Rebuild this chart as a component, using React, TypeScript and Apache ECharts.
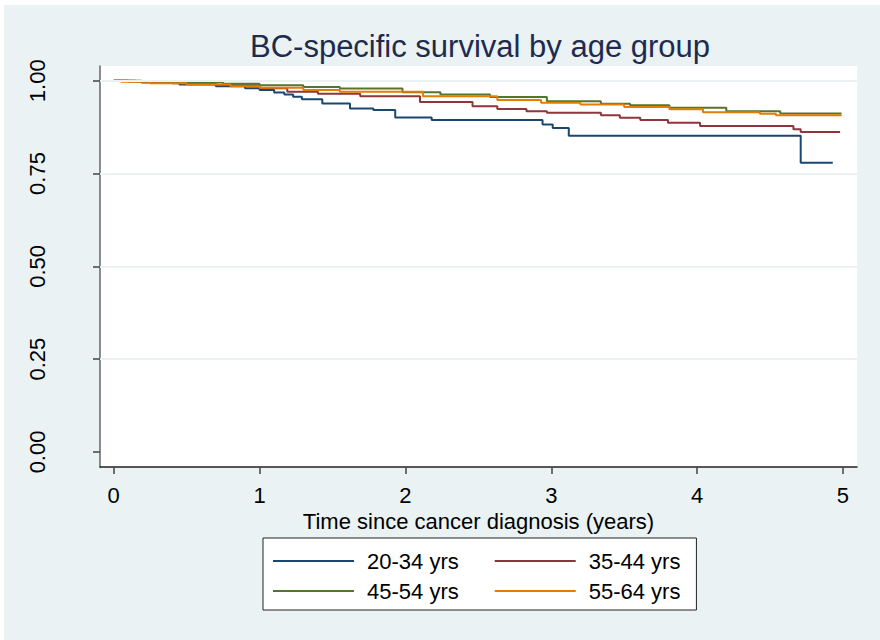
import React, { useEffect, useRef } from "react";
import * as echarts from "echarts";

const titleText = "BC-specific survival by age group";
const xAxisTitle = "Time since cancer diagnosis (years)";
const ageGroups = ["20-34 yrs", "35-44 yrs", "45-54 yrs", "55-64 yrs"];
const xTicks = [0, 1, 2, 3, 4, 5];
const yTicks = [0, 0.25, 0.5, 0.75, 1];
const gridValues = [0.25, 0.5, 0.75, 1];

// Kaplan-Meier step points (time in years, survival)
const time2034 = [0, 0.19, 0.45, 0.7, 0.9, 1.0, 1.1, 1.17, 1.23, 1.29, 1.43, 1.62, 1.78, 1.93, 2.18, 2.94, 3.01, 3.12, 4.71, 4.93];
const surv2034 = [1.0, 0.995, 0.99, 0.985, 0.98, 0.975, 0.968, 0.963, 0.957, 0.95, 0.939, 0.925, 0.921, 0.901, 0.894, 0.882, 0.873, 0.852, 0.779, 0.779];

const time3544 = [0, 0.1, 0.4, 0.7, 1.0, 1.19, 1.4, 1.69, 2.1, 2.46, 2.63, 2.83, 2.97, 3.34, 3.47, 3.61, 3.8, 4.02, 4.66, 4.71, 4.98];
const surv3544 = [1.0, 0.998, 0.993, 0.988, 0.98, 0.97, 0.965, 0.958, 0.943, 0.931, 0.924, 0.918, 0.914, 0.907, 0.9, 0.894, 0.887, 0.878, 0.869, 0.862, 0.862];

const time4554 = [0, 0.15, 0.45, 0.75, 1.0, 1.3, 1.55, 1.98, 2.24, 2.58, 2.97, 3.34, 3.54, 3.81, 4.2, 4.57, 4.99];
const surv4554 = [1.0, 0.998, 0.995, 0.992, 0.988, 0.983, 0.979, 0.969, 0.963, 0.956, 0.945, 0.938, 0.934, 0.927, 0.918, 0.912, 0.912];

const time5564 = [0, 0.05, 0.25, 0.5, 0.8, 1.0, 1.3, 1.55, 2.12, 2.63, 2.93, 3.2, 3.5, 3.81, 4.04, 4.43, 4.54, 4.99];
const surv5564 = [1.0, 0.997, 0.993, 0.99, 0.985, 0.981, 0.975, 0.97, 0.958, 0.948, 0.941, 0.936, 0.929, 0.923, 0.915, 0.911, 0.907, 0.907];

const seriesTimes = [time2034, time3544, time4554, time5564];
const seriesSurv = [surv2034, surv3544, surv4554, surv5564];
const colors = ["#1A476F", "#90353B", "#55752F", "#E37E00"];

const FONT = "'Liberation Sans', Arial, Helvetica, sans-serif";
const BG = "#EAF2F3";

export default function App() {
  const ref = useRef<HTMLDivElement>(null);
  useEffect(() => {
    if (!ref.current) return;
    const chart = echarts.init(ref.current, undefined, { renderer: "svg" });
    const lineSeries = ageGroups.map((name, i) => ({
      name,
      type: "line",
      step: "end",
      symbol: "none",
      showSymbol: false,
      z: 3,
      lineStyle: { color: colors[i], width: 2 },
      itemStyle: { color: colors[i] },
      data: seriesTimes[i].map((t, j) => [t, seriesSurv[i][j]]),
    }));
    const option: any = {
      animation: false,
      backgroundColor: BG,
      title: {
        text: titleText,
        left: 241,
        top: 21,
        textStyle: { fontFamily: FONT, fontSize: 31, fontWeight: "normal", color: "#1E2B4E" },
      },
      grid: {
        left: 96,
        top: 61,
        right: 23,
        bottom: 173,
        show: true,
        backgroundColor: "#ffffff",
        borderWidth: 0,
      },
      xAxis: {
        type: "value",
        min: -0.094,
        max: 5.096,
        name: xAxisTitle,
        nameLocation: "middle",
        nameGap: 39,
        nameTextStyle: { fontFamily: FONT, fontSize: 22, color: "#000" },
        axisLine: { show: true, onZero: false, lineStyle: { color: "#222", width: 1.5 } },
        axisTick: { show: true, length: 7, customValues: xTicks, lineStyle: { color: "#444", width: 1.5 } },
        axisLabel: {
          customValues: xTicks,
          margin: 17,
          fontFamily: FONT,
          fontSize: 22,
          color: "#000",
          formatter: (v: number) => String(v),
        },
        splitLine: { show: false },
      },
      yAxis: {
        type: "value",
        min: -0.0405,
        max: 1.0397,
        axisLine: { show: true, onZero: false, lineStyle: { color: "#666", width: 1.5 } },
        axisTick: { show: true, length: 7, customValues: yTicks, lineStyle: { color: "#444", width: 1.5 } },
        axisLabel: {
          customValues: yTicks,
          rotate: 90,
          margin: 52,
          fontFamily: FONT,
          fontSize: 22,
          color: "#000",
          formatter: (v: number) => v.toFixed(2),
        },
        splitLine: { show: false },
      },
      legend: {
        left: 259,
        top: 533,
        orient: "horizontal",
        width: 415,
        itemGap: 8,
        itemWidth: 81,
        itemHeight: 22,
        padding: [12, 16, 8, 9],
        backgroundColor: "#ffffff",
        borderColor: "#222",
        borderWidth: 1,
        itemStyle: { color: "rgba(0,0,0,0)", borderWidth: 0, opacity: 0 },
        lineStyle: { width: 2 },
        textStyle: { fontFamily: FONT, fontSize: 22, color: "#000", lineHeight: 22, padding: [0, 0, 0, 8] },
        data: [
          { name: ageGroups[0], textStyle: { padding: [0, 27, 0, 8] } },
          { name: ageGroups[1] },
          { name: ageGroups[2], textStyle: { padding: [0, 27, 0, 8] } },
          { name: ageGroups[3] },
        ],
      },
      series: [
        {
          name: "grid",
          type: "line",
          data: [],
          z: 1,
          silent: true,
          markLine: {
            silent: true,
            symbol: "none",
            label: { show: false },
            lineStyle: { color: BG, width: 2, type: "solid" },
            data: gridValues.map((v) => ({ yAxis: v })),
          },
        },
        ...lineSeries,
      ],
    };
    chart.setOption(option);
    return () => chart.dispose();
  }, []);
  return (
    <div style={{ position: "fixed", left: 0, top: 0, width: 880, height: 640, background: "#ffffff" }}>
      <div ref={ref} style={{ position: "absolute", left: 4, top: 5, width: 876, height: 635 }} />
    </div>
  );
}
